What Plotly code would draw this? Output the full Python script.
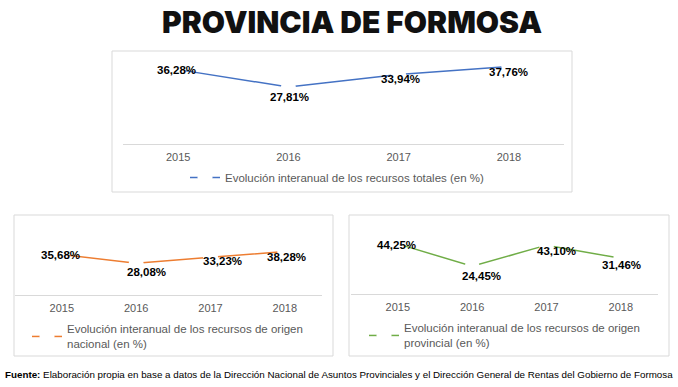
import plotly.graph_objects as go

W, H = 678, 387

years = ["2015", "2016", "2017", "2018"]
totales = [36.28, 27.81, 33.94, 37.76]
nacional = [35.68, 28.08, 33.23, 38.28]
provincial = [44.25, 24.45, 43.10, 31.46]

name_tot = "Evolución interanual de los recursos totales (en %)"
name_nac = "Evolución interanual de los recursos de origen<br>nacional (en %)"
name_prov = "Evolución interanual de los recursos de origen<br>provincial (en %)"

title_text = "PROVINCIA DE FORMOSA"
footer_bold = "Fuente:"
footer_text = (" Elaboración propia en base a datos de la Dirección Nacional de Asuntos "
               "Provinciales y el Dirección General de Rentas del Gobierno de Formosa")

# label offsets (px) per chart: style only
shift_tot = [(-2, 0), (1, -10), (2, -5), (0, -5)]
shift_nac = [(-1, 0), (10, -9), (12, -4), (2, -5)]
shift_prov = [(-1, -1), (9, -10), (10, -6), (1, -7)]

def px_x(a, b):
    return [a / W, b / W]

def px_y(top, bottom):
    return [1 - bottom / H, 1 - top / H]

fig = go.Figure()

LBL = "Liberation Sans, Arial, sans-serif"
TICK_COLOR = "#595959"

charts = [
    (totales, name_tot, "#4472C4", "x", "y", "legend", shift_tot),
    (nacional, name_nac, "#ED7D31", "x2", "y2", "legend2", shift_nac),
    (provincial, name_prov, "#70AD47", "x3", "y3", "legend3", shift_prov),
]

for vals, name, color, xa, ya, lg, shifts in charts:
    fig.add_trace(go.Scatter(
        x=years, y=vals, name=name, mode="lines+markers",
        line=dict(color=color, width=1.5),
        marker=dict(color="white", size=15, line=dict(width=0)),
        xaxis=xa, yaxis=ya, legend=lg, showlegend=True, hoverinfo="skip",
    ))
    for i, (v, (dx, dy)) in enumerate(zip(vals, shifts)):
        fig.add_annotation(
            x=i, y=v, xref=xa, yref=ya,
            text=f"{v:.2f}%".replace(".", ","),
            showarrow=False, xshift=dx, yshift=dy,
            font=dict(family=LBL, size=11.5, color="#000000", weight="bold"),
        )

axis_common = dict(
    type="category", showgrid=False, zeroline=False, showline=True,
    linecolor="#D9D9D9", linewidth=1, ticks="", ticklabelstandoff=3,
    tickfont=dict(family=LBL, size=11, color=TICK_COLOR),
)
yaxis_common = dict(visible=False, showgrid=False, zeroline=False)

legend_font = dict(family=LBL, size=11.5, color=TICK_COLOR)

fig.update_layout(
    width=W, height=H,
    margin=dict(l=0, r=0, t=0, b=0),
    paper_bgcolor="white", plot_bgcolor="rgba(0,0,0,0)",
    xaxis=dict(domain=px_x(123, 564), range=[-0.5, 3.5], anchor="y", **axis_common),
    yaxis=dict(domain=px_y(62, 144), range=[0, 40], anchor="x", **yaxis_common),
    xaxis2=dict(domain=px_x(15, 322), range=[-0.63, 3.5], anchor="y2", **axis_common),
    yaxis2=dict(domain=px_y(227, 295), range=[0, 60], anchor="x2", **yaxis_common),
    xaxis3=dict(domain=px_x(351, 658), range=[-0.63, 3.5], anchor="y3", **axis_common),
    yaxis3=dict(domain=px_y(226, 294), range=[0, 60], anchor="x3", **yaxis_common),
    legend=dict(x=185 / W, y=1 - 163 / H, xanchor="left", yanchor="top",
                font=legend_font, bgcolor="rgba(0,0,0,0)", itemwidth=30),
    legend2=dict(x=27 / W, y=1 - 315 / H, xanchor="left", yanchor="top",
                 font=legend_font, bgcolor="rgba(0,0,0,0)", itemwidth=30),
    legend3=dict(x=364 / W, y=1 - 314 / H, xanchor="left", yanchor="top",
                 font=legend_font, bgcolor="rgba(0,0,0,0)", itemwidth=30),
    showlegend=True,
)

for (x0, y0, x1, y1) in [(112, 51, 572, 192), (14, 215, 333, 356), (349, 215, 669, 356)]:
    fig.add_shape(type="rect", xref="paper", yref="paper",
                  x0=x0 / W, x1=x1 / W, y0=1 - y1 / H, y1=1 - y0 / H,
                  line=dict(color="#D9D9D9", width=1), fillcolor="rgba(0,0,0,0)",
                  layer="below")

fig.add_annotation(
    x=352 / W, y=1 - 22 / H, xref="paper", yref="paper", showarrow=False,
    text=title_text, xanchor="center", yanchor="middle",
    font=dict(family="Inter, Lato, Roboto, sans-serif", size=30, color="#111111", weight=900),
)
fig.add_annotation(
    x=3 / W, y=1 - 374 / H, xref="paper", yref="paper", showarrow=False,
    text=f"<b>{footer_bold}</b>{footer_text}", xanchor="left", yanchor="middle",
    font=dict(family="Liberation Sans Narrow, Liberation Sans, Arial, sans-serif", size=9.8, color="#000000"),
)

fig.write_html("out.html", config={"displayModeBar": False},
               post_script="document.body.style.margin='0';")
